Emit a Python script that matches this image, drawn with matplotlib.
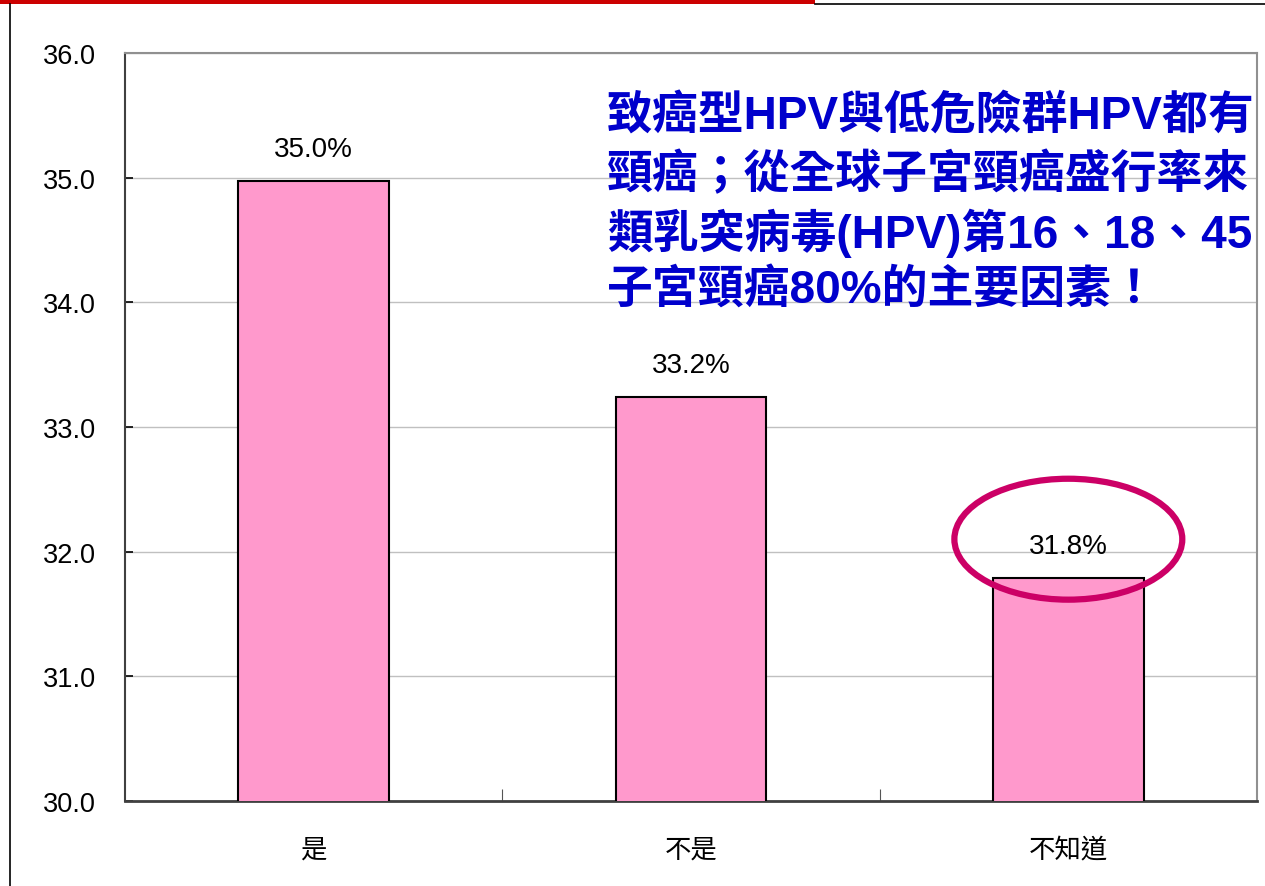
import matplotlib
matplotlib.use("Agg")
import matplotlib.pyplot as plt
from matplotlib.patches import Ellipse, Rectangle
from matplotlib.lines import Line2D

# data
categories = ["是", "不是", "不知道"]
values = [34.97, 33.24, 31.79]
value_labels = ["35.0%", "33.2%", "31.8%"]
y_ticks = [30.0, 31.0, 32.0, 33.0, 34.0, 35.0, 36.0]

# note box text (runs off the right edge of the slide in the original)
note_lines = [
    "致癌型HPV與低危險群HPV都有",
    "頸癌；從全球子宮頸癌盛行率來",
    "類乳突病毒(HPV)第16、18、45",
    "子宮頸癌80%的主要因素！",
]

plt.rcParams['font.family'] = ['Liberation Sans', 'Noto Sans CJK TC', 'DejaVu Sans']

fig = plt.figure(figsize=(12.65, 8.87), dpi=100)
ax = fig.add_axes([125/1265, 85/887, 1132/1265, 748/887])

x = range(len(categories))
ax.bar(x, values, width=0.40, bottom=0, color="#FF99CC", edgecolor="black",
       linewidth=1.5, zorder=3)

for i, (v, lab) in enumerate(zip(values, value_labels)):
    ax.annotate(lab, (i, v), xytext=(0, 23), textcoords="offset points",
                ha="center", va="center", fontsize=20, color="black", zorder=5)

ax.set_xlim(-0.5, 2.5)
ax.set_ylim(30, 36)
ax.set_yticks(y_ticks)
ax.set_yticklabels([f"{t:.1f}" for t in y_ticks], fontsize=19.5)
ax.tick_params(axis="y", direction="in", length=6, width=1.2, pad=21)

ax.set_xticks(list(x))
ax.set_xticklabels(categories, fontsize=19, family=['Noto Sans CJK TC'],
                   weight='light')
ax.tick_params(axis="x", which="major", length=0, pad=25)
ax.set_xticks([0.5, 1.5], minor=True)
ax.tick_params(axis="x", which="minor", direction="in", length=9, width=0.8,
               color="#555555")

ax.yaxis.grid(True, color="#C0C0C0", linewidth=1, zorder=0)
ax.set_axisbelow(True)

for s in ["top", "right"]:
    ax.spines[s].set_color("#909090")
    ax.spines[s].set_linewidth(1.5)
ax.spines["left"].set_color("#404040")
ax.spines["bottom"].set_color("#404040")
ax.spines["left"].set_linewidth(1.5)
ax.spines["bottom"].set_linewidth(2)

# highlight around the last bar
ax.add_patch(Ellipse((2, 32.10), 0.604, 0.97, fill=False, edgecolor="#CC0066",
                     linewidth=4.5, zorder=6, clip_on=False))

# note text
for k, line in enumerate(note_lines):
    fig.text(607/1265, 1 - (118 + 57.5*k)/887, line, fontsize=33, color="#0000CC",
             weight="bold", ha="left", va="center")

# slide decorations
fig.add_artist(Rectangle((0, 1 - 5/887), 815/1265, 5/887, transform=fig.transFigure,
                         color="#CC0000", linewidth=0))
fig.add_artist(Line2D([815/1265, 1], [1 - 5/887, 1 - 5/887], transform=fig.transFigure,
                      color="black", linewidth=1.2))
fig.add_artist(Line2D([10/1265, 10/1265], [0, 1 - 5/887], transform=fig.transFigure,
                      color="black", linewidth=1.2))

fig.savefig("out.png", dpi=100)
